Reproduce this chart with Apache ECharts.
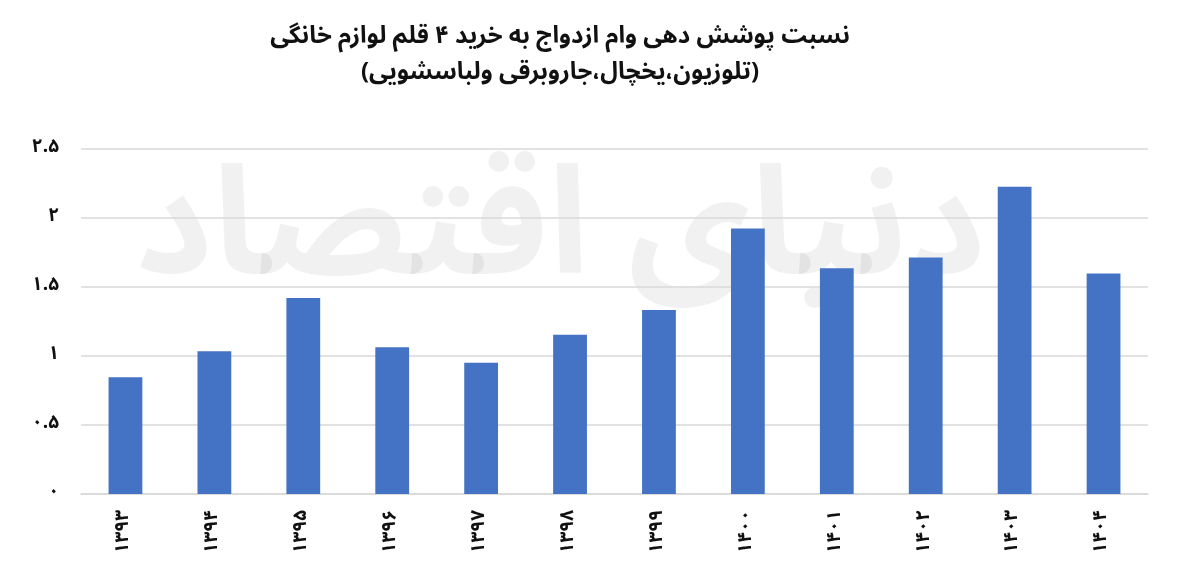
<!DOCTYPE html>
<html>
<head>
<meta charset="utf-8">
<script src="https://cdn.jsdelivr.net/npm/echarts@6/dist/echarts.min.js"></script>
<style>
html,body{margin:0;padding:0;background:#fff;}
#chart{width:1200px;height:583px;}
</style>
</head>
<body>
<div id="chart"></div>
<script>
const titleLines = ['نسبت پوشش دهی وام ازدواج به خرید ۴ قلم لوازم خانگی', '(تلوزیون،یخچال،جاروبرقی ولباسشویی)'];
const categories = ['۱۳۹۳','۱۳۹۴','۱۳۹۵','۱۳۹۶','۱۳۹۷','۱۳۹۸','۱۳۹۹','۱۴۰۰','۱۴۰۱','۱۴۰۲','۱۴۰۳','۱۴۰۴'];
const ratios = [0.845, 1.033, 1.419, 1.062, 0.951, 1.153, 1.332, 1.923, 1.634, 1.713, 2.224, 1.597];
const yTicks = [0, 0.5, 1, 1.5, 2, 2.5];
const yTickLabels = ['۰','۰.۵','۱','۱.۵','۲','۲.۵'];
const watermark = 'دنیای اقتصاد';

const FONT = '"Noto Sans Arabic","DejaVu Sans","Noto Sans",sans-serif';
const chart = echarts.init(document.getElementById('chart'));
chart.setOption({
  animation: false,
  backgroundColor: '#ffffff',
  title: {
    text: titleLines.join('\n'),
    left: 555,
    top: 16,
    textAlign: 'center',
    textStyle: {fontFamily: FONT, fontSize: 24, fontWeight: 'bold', color: '#111', lineHeight: 36}
  },
  graphic: [{
    type: 'text',
    left: 135,
    top: 175,
    z: -1,
    silent: true,
    style: {text: watermark, fontFamily: FONT, fontSize: 150, fontWeight: 'bold', fill: 'rgba(0,0,0,0.055)'}
  }],
  grid: {left: 81, right: 52, top: 148.7, bottom: 89},
  xAxis: {
    type: 'category',
    data: categories,
    axisTick: {show: false},
    axisLine: {lineStyle: {color: '#d9d9d9', width: 1.5}},
    axisLabel: {rotate: 90, margin: 16, fontFamily: FONT, fontSize: 19, fontWeight: 'bold', color: '#111'}
  },
  yAxis: {
    type: 'value',
    min: 0, max: 2.5, interval: 0.5,
    axisLine: {show: false},
    axisTick: {show: false},
    splitLine: {lineStyle: {color: '#d9d9d9', width: 1.5}},
    axisLabel: {
      margin: 22,
      fontFamily: FONT, fontSize: 19, fontWeight: 'bold', color: '#111',
      formatter: v => { const i = yTicks.indexOf(Math.round(v*10)/10); return i >= 0 ? yTickLabels[i] : ''; }
    }
  },
  series: [{
    type: 'bar',
    data: ratios,
    barWidth: '38%',
    itemStyle: {color: '#4472C4'}
  }]
});
</script>
</body>
</html>
